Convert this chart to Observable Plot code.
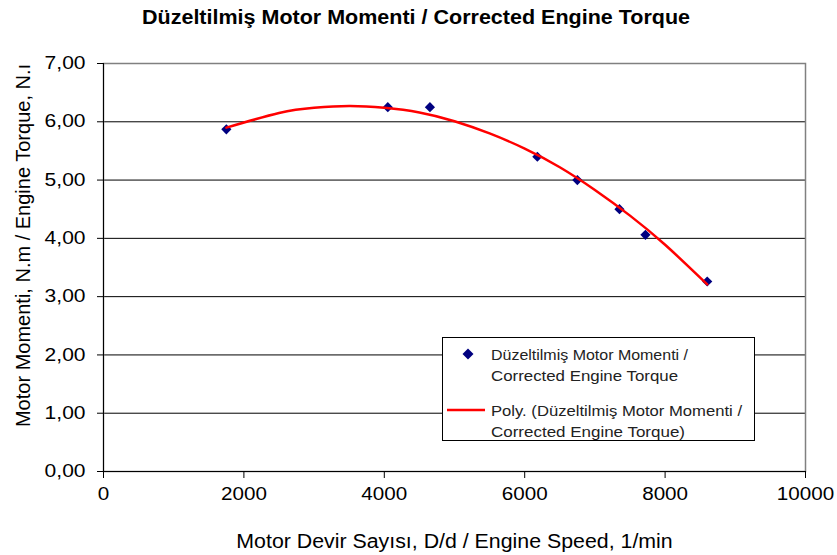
<!DOCTYPE html>
<html>
<head>
<meta charset="utf-8">
<script src="https://cdn.jsdelivr.net/npm/d3@7"></script>
<script src="https://cdn.jsdelivr.net/npm/@observablehq/plot@0.6"></script>
<style>
  html, body { margin: 0; padding: 0; background: #fff; }
  #wrap { position: relative; width: 837px; height: 555px; font-family: "Liberation Sans", Arial, sans-serif; }
  #title { position: absolute; left: 0; top: 0; }
  #chart { position: absolute; left: 0; top: 30px; }
  #legend { position: absolute; left: 442px; top: 337px; }
</style>
</head>
<body>
<div id="wrap">
  <svg id="title" width="837" height="30">
    <text x="416" y="24.3" text-anchor="middle" font-weight="bold" font-size="19.5" fill="#000"
      font-family="Liberation Sans, Arial, sans-serif" textLength="548" lengthAdjust="spacingAndGlyphs">Düzeltilmiş Motor Momenti / Corrected Engine Torque</text>
  </svg>
  <div id="chart"></div>
  <svg id="legend" width="313" height="104" font-family="Liberation Sans, Arial, sans-serif" font-size="15.5" fill="#222">
    <rect x="0.5" y="0.5" width="312" height="103" fill="#fff" stroke="#000" stroke-width="1"/>
    <path d="M26,11.5L31.5,17L26,22.5L20.5,17Z" fill="#000080"/>
    <text x="49" y="22.5" textLength="197" lengthAdjust="spacingAndGlyphs">Düzeltilmiş Motor Momenti /</text>
    <text x="49" y="43.5" textLength="187" lengthAdjust="spacingAndGlyphs">Corrected Engine Torque</text>
    <line x1="5" y1="73" x2="43" y2="73" stroke="#ff0000" stroke-width="2.5"/>
    <text x="49" y="78.5" textLength="251" lengthAdjust="spacingAndGlyphs">Poly. (Düzeltilmiş Motor Momenti /</text>
    <text x="49" y="99.5" textLength="194" lengthAdjust="spacingAndGlyphs">Corrected Engine Torque)</text>
  </svg>
</div>
<script>
// Measured points (engine speed, 1/min; corrected torque, N.m)
const speed  = [1750, 4050, 4650, 6180, 6750, 7350, 7720, 8600];
const torque = [5.87, 6.25, 6.25, 5.40, 5.00, 4.50, 4.06, 3.26];

// Polynomial trendline
const trendSpeed  = [1750, 2500, 3000, 3500, 4000, 4500, 5000, 5500, 6000, 6500, 7000, 7500, 8000, 8600];
const trendTorque = [5.90, 6.15, 6.24, 6.27, 6.24, 6.16, 6.01, 5.80, 5.54, 5.22, 4.83, 4.39, 3.89, 3.21];

// Axis ticks
const xTicks = [0, 2000, 4000, 6000, 8000, 10000];
const yTicks = [0, 1, 2, 3, 4, 5, 6, 7];

// Axis titles
const xTitle = ["Motor Devir Sayısı, D/d / Engine Speed, 1/min"];
const yTitle = ["Motor Momenti, N.m / Engine Torque, N.ı"];

const points = speed.map((s, i) => ({speed: s, torque: torque[i]}));
const trend = trendSpeed.map((s, i) => ({speed: s, torque: trendTorque[i]}));

const fmtY = d => d3.format(".2f")(d).replace(".", ",");

const chart = Plot.plot({
  width: 837,
  height: 525,
  marginLeft: 103,
  marginRight: 32,
  marginTop: 33,
  marginBottom: 84,
  style: {fontFamily: '"Liberation Sans", Arial, sans-serif', fontSize: "17.5px", color: "#000", background: "#fff", overflow: "visible"},
  x: {domain: [0, 10000]},
  y: {domain: [0, 7]},
  marks: [
    Plot.gridY(yTicks, {stroke: "#000", strokeOpacity: 1, strokeWidth: 1}),
    Plot.frame({stroke: "#808080", strokeWidth: 1.5}),
    Plot.axisY({ticks: yTicks, tickFormat: fmtY, tickSize: 6, tickPadding: 12, stroke: "#000", label: null}),
    Plot.axisX({ticks: xTicks, tickFormat: d => String(d), tickSize: 7, tickPadding: 9, stroke: "#000", label: null}),
    Plot.ruleX([0], {stroke: "#000"}),
    Plot.ruleY([0], {stroke: "#000"}),
    Plot.text(xTitle, {text: d => d, frameAnchor: "bottom", lineAnchor: "bottom", dy: 76, fontSize: 19.5, fill: "#000"}),
    Plot.text(yTitle, {text: d => d, frameAnchor: "left", textAnchor: "middle", rotate: -90, lineAnchor: "bottom", dx: -74, dy: -22, fontSize: 20, fill: "#000"}),
    Plot.dot(points, {x: "speed", y: "torque", symbol: "diamond2", r: 4.6, fill: "#000080", stroke: "none"}),
    Plot.line(trend, {x: "speed", y: "torque", stroke: "#ff0000", strokeWidth: 2.5, curve: "natural"})
  ]
});
document.getElementById("chart").appendChild(chart);

// The reference's horizontal text is slightly stretched; widen horizontal labels to match.
function stretch(sel, factor) {
  chart.querySelectorAll(sel).forEach(t => {
    const w = t.getComputedTextLength();
    t.setAttribute("textLength", (w * factor).toFixed(1));
    t.setAttribute("lengthAdjust", "spacingAndGlyphs");
  });
}
stretch('g[aria-label="x-axis tick label"] text', 1.18);
stretch('g[aria-label="y-axis tick label"] text', 1.2);
chart.querySelectorAll('g[aria-label="text"] text').forEach(t => {
  if (!(t.getAttribute("transform") || "").includes("rotate")) {
    const w = t.getComputedTextLength();
    t.setAttribute("textLength", (w * 1.094).toFixed(1));
    t.setAttribute("lengthAdjust", "spacingAndGlyphs");
  }
});
</script>
</body>
</html>
